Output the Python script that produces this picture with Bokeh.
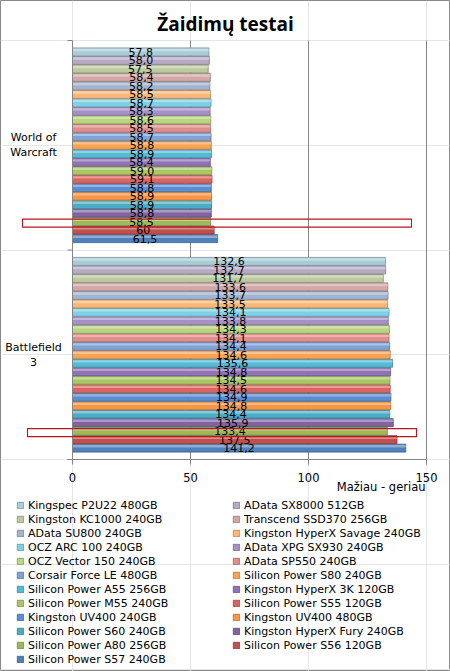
from bokeh.plotting import figure
from bokeh.models import Range1d, Legend, LegendItem, BoxAnnotation, ColumnDataSource
from bokeh.embed import file_html
from bokeh.resources import INLINE
from bokeh.core.properties import value

# ---------------- data ----------------
title_text = "Žaidimų testai"
axis_title = "Mažiau - geriau"
categories = ["Battlefield\n3", "World of\nWarcraft"]          # bottom -> top
series_names = [
    "Silicon Power S57 240GB", "Silicon Power S56 120GB", "Silicon Power A80 256GB",
    "Kingston HyperX Fury 240GB", "Silicon Power S60 240GB", "Kingston UV400 480GB",
    "Kingston UV400 240GB", "Silicon Power S55 120GB", "Silicon Power M55 240GB",
    "Kingston HyperX 3K 120GB", "Silicon Power A55 256GB", "Silicon Power S80 240GB",
    "Corsair Force LE 480GB", "AData SP550 240GB", "OCZ Vector 150 240GB",
    "AData XPG SX930 240GB", "OCZ ARC 100 240GB", "Kingston HyperX Savage 240GB",
    "AData SU800 240GB", "Transcend SSD370 256GB", "Kingston KC1000 240GB",
    "AData SX8000 512GB", "Kingspec P2U22 480GB",
]                                                             # bottom -> top
bf3_values = [141.2, 137.5, 133.4, 135.9, 134.4, 134.8, 134.9, 134.6, 134.5, 134.8,
              135.6, 134.6, 134.4, 134.1, 134.3, 133.8, 134.1, 133.5, 133.7, 133.6,
              131.7, 132.7, 132.6]
wow_values = [61.5, 60, 58.5, 58.8, 58.9, 58.9, 58.8, 59.1, 59.0, 58.4, 58.9, 58.8,
              58.7, 58.5, 58.6, 58.3, 58.7, 58.5, 58.2, 58.4, 57.5, 58.0, 57.8]
x_ticks = [0, 50, 100, 150]
highlight = "Silicon Power A80 256GB"

# ---------------- style / layout ----------------
colors = ["#4F81BD", "#C0504D", "#9BBB59", "#8064A2", "#4BACC6", "#F79646",
          "#5B8ED0", "#DA6460", "#A9C865", "#8F73B5", "#55BAD6", "#F9A452",
          "#7EA3D6", "#E08E8B", "#B9D580", "#A690C8", "#80D0E5", "#FAB877",
          "#A2B4CE", "#D2A7A6", "#BCCAA0", "#B6AAC6", "#A9CCD6"]
grid_col = "#868686"
FONT = "DejaVu Sans"
W, H = 450, 671            # canvas size
ORG_X, ORG_Y = 72, 459     # pixel of the value-axis origin
UX = 354 / 150             # px per value unit
UY = 419 / len(categories)  # px per category


def X(px):
    return (px - ORG_X) / UX


def Y(py):
    return (ORG_Y - py) / UY


n = len(series_names)
gap = 0.034
pitch = (1 - 2 * gap) / n


def darker(h, f=0.72):
    r, g, b = int(h[1:3], 16), int(h[3:5], 16), int(h[5:7], 16)
    return "#%02x%02x%02x" % (int(r * f), int(g * f), int(b * f))


def fmt(v):
    return str(v) if isinstance(v, int) else ("%.1f" % v).replace(".", ",")


p = figure(width=W, height=H, output_backend="svg", toolbar_location=None,
           x_range=Range1d(X(0), X(W)), y_range=Range1d(Y(H), Y(0)),
           x_axis_location=None, y_axis_location=None, min_border=0)
p.outline_line_color = "#898989"
p.background_fill_color = "white"
p.border_fill_color = "white"

# gridlines (value axis)
p.segment(x0=x_ticks[1:], x1=x_ticks[1:], y0=0, y1=len(categories),
          line_color=grid_col, line_width=1)

renderers = []
for i, name in enumerate(series_names):
    ys = [c + gap + (i + 0.5) * pitch for c in range(len(categories))]
    vals = [bf3_values[i], wow_values[i]]
    src = ColumnDataSource(dict(y=ys, right=vals,
                                hy=[y + pitch * 0.22 for y in ys]))
    r = p.hbar(y="y", left=0, right="right", height=pitch * 0.94, source=src,
               fill_color=colors[i], line_color=darker(colors[i]), line_width=0.8)
    p.hbar(y="hy", left=0, right="right", height=pitch * 0.28, source=src,
           fill_color="white", fill_alpha=0.35, line_color=None)
    renderers.append(r)
    if name == highlight:
        box_left = [X(27), X(22)]
        box_right = [X(416), X(411)]
        for c, y in enumerate(ys):
            p.add_layout(BoxAnnotation(left=box_left[c], right=box_right[c],
                                       bottom=y - pitch * 0.65, top=y + pitch * 0.3,
                                       fill_color=None, fill_alpha=0,
                                       line_color="#B8161B", line_alpha=1.0,
                                       line_width=1.1))

for i in range(n):
    ys = [c + gap + (i + 0.5) * pitch for c in range(len(categories))]
    vals = [bf3_values[i], wow_values[i]]
    p.text(x=[v / 2 for v in vals], y=ys, text=[fmt(v) for v in vals],
           text_align="center", text_baseline="middle", text_font=value(FONT),
           text_font_size="11px", text_color="black")

# category axis (left)
cat_b = list(range(len(categories) + 1))
p.segment(x0=0, x1=0, y0=0, y1=len(categories), line_color=grid_col)
p.segment(x0=X(67), x1=0, y0=cat_b, y1=cat_b, line_color=grid_col)
p.text(x=X(33), y=[c + 0.5 for c in range(len(categories))], text=categories,
       text_align="center", text_baseline="middle", text_font=value(FONT),
       text_font_size="11px", text_line_height=1.15, text_color="black")

# value axis (bottom)
p.segment(x0=X(67), x1=x_ticks[-1], y0=0, y1=0, line_color=grid_col)
p.segment(x0=x_ticks, x1=x_ticks, y0=0, y1=Y(464), line_color=grid_col)
p.text(x=x_ticks, y=Y(477), text=[str(t) for t in x_ticks], text_align="center",
       text_baseline="middle", text_font=value(FONT), text_font_size="11.5px",
       text_color="black")
p.text(x=[X(425)], y=[Y(486)], text=[axis_title], text_align="right",
       text_baseline="middle", text_font=value(FONT), text_font_size="11.5px",
       text_color="black")

# title
p.text(x=[X(225)], y=[Y(23)], text=[title_text], text_align="center",
       text_baseline="middle", text_font=value("Open Sans"), text_font_style="bold",
       text_font_size="19px", text_color="black")

items = [LegendItem(label=series_names[i], renderers=[renderers[i]])
         for i in range(n - 1, -1, -1)]
legend = Legend(items=items, orientation="horizontal", ncols=2, location=(16, 5),
                padding=0, margin=0, spacing=0, label_height=14, glyph_height=8,
                glyph_width=8, label_standoff=4, label_width=204,
                label_text_font=FONT, label_text_font_size="11px",
                label_text_color="black", border_line_color=None,
                background_fill_alpha=0)
p.add_layout(legend, "center")

open("out.html", "w").write(file_html(p, INLINE))
